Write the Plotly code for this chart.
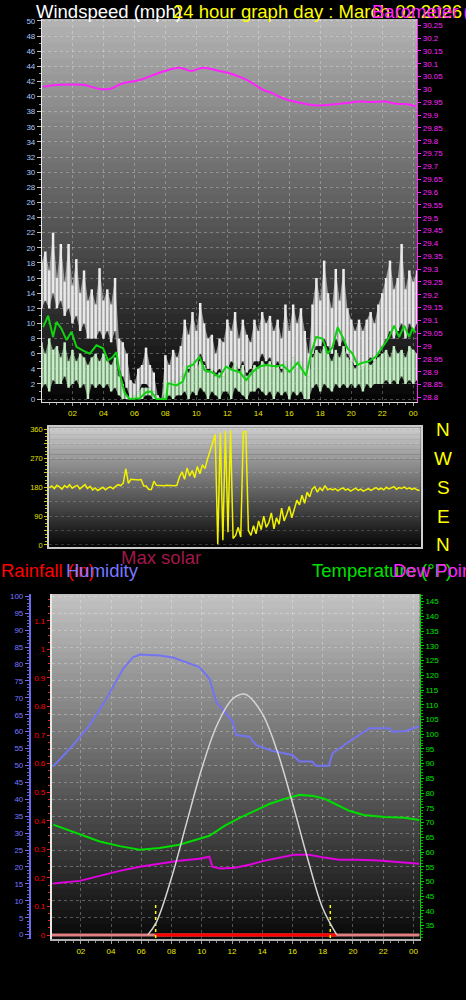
import plotly.graph_objects as go

# ---------------- DATA ----------------
hour_ticks = [2, 4, 6, 8, 10, 12, 14, 16, 18, 20, 22, 24]
hour_labels = ["02", "04", "06", "08", "10", "12", "14", "16", "18", "20", "22", "00"]

# wind speed samples every 15 minutes (mph)
wind_time = [i * 0.25 for i in range(98)]
gust_hi = [18, 19.5, 17, 22, 16, 20.5, 15.5, 20.5, 15, 18.5,
           14, 17, 13, 14.5, 12.5, 17.3, 13, 14.5, 12.5, 16,
           8, 7.5, 6, 2.5, 2, 4, 4.5, 6.8, 4.5, 3.5,
           0.5, 0, 5.8, 4.5, 6.5, 5.5, 7, 10.5, 8.5, 11.5,
           9, 12.7, 10, 8, 8.5, 6, 8, 7.5, 10.5, 9,
           11.5, 8, 10.5, 8.5, 7.5, 10.5, 9, 11.5, 10, 11,
           9, 10.5, 8, 12.5, 9, 12.5, 10, 12, 9, 6,
           12.5, 16, 13, 18.3, 14, 12, 17.2, 13, 17.2, 12,
           10.5, 9, 10.5, 9, 10.5, 11.5, 10, 12.5, 14, 16,
           18.3, 14.5, 16, 20.5, 14.5, 17, 15.5, 17]
gust_lo = [12, 13, 12, 14, 12, 13, 11, 12, 10, 11,
           9, 10, 8, 8, 8, 9, 8, 9, 7.5, 9,
           4, 3, 1.5, 0, 0.5, 1, 2, 2, 1.5, 1,
           0, 0, 1, 2, 2.5, 2, 3, 4, 4, 5,
           4, 6, 5, 4, 4, 3.5, 4, 3, 4, 5,
           4.5, 4, 5, 3.5, 4, 5, 5, 6, 5, 5.5,
           4, 5, 4, 5, 4, 5.5, 4, 5, 4, 3,
           6, 7, 7, 8, 7, 6, 8, 7, 8, 6,
           5, 4.5, 5, 4, 5, 5.5, 5, 6, 7, 8,
           9, 8, 9, 10, 8, 10, 9, 10]
speed_hi = [7.5, 6, 8, 6.5, 7, 5.5, 7.5, 5, 6.5, 5,
            6, 5.5, 4.5, 5.5, 6, 5, 6, 5, 4.5, 5.5,
            3, 2, 0.5, 0, 0.5, 1, 1.5, 1.5, 1.5, 1,
            0, 0, 2.5, 2, 2.5, 2, 3, 4.5, 3.5, 5,
            4, 5, 4.5, 3.5, 4, 3, 3.5, 3, 4.5, 4,
            5, 3.5, 4.5, 3, 3.5, 4.5, 4, 5, 4.5, 5,
            4, 4.5, 3.5, 5, 4, 5.5, 4, 5, 4, 3,
            5.5, 6.5, 6, 7, 6, 5, 6.5, 5.5, 7, 5.5,
            5, 4, 5, 4.5, 5, 4.5, 5, 5.5, 6, 6.5,
            5.5, 7, 6, 6.5, 5.5, 7, 6.5, 6]
speed_lo = [1.5, 2, 1, 2.5, 2, 2, 3, 1.5, 2, 2.5,
            1.5, 2, 0, 2, 1.5, 2, 1.5, 2, 1, 1.5,
            0.5, 0, 0, 0, 0, 0, 0, 0.5, 0.5, 0,
            0, 0, 0, 0.5, 0, 0.5, 0.5, 1, 0, 1,
            0.5, 1.5, 1, 0, 1, 0.5, 0, 1, 1, 0,
            1.5, 1, 0.5, 0, 1, 1, 1.5, 1, 0.5, 1,
            0, 1, 0.5, 1, 0, 1, 0.5, 1, 0, 0,
            1.5, 2, 1, 2, 1.5, 1, 2, 1.5, 2, 1.5,
            2, 1.5, 2, 1, 2, 1.5, 2, 2, 2, 2.5,
            2, 2.5, 2, 3, 2, 2.5, 2, 2.5]

avg_time = [0.11, 0.43, 0.75, 0.97, 1.29, 1.62, 1.94, 2.26, 2.69, 3.12, 3.55, 3.98, 4.3, 4.62,
            4.84, 5.05, 5.37, 5.7, 6.34, 6.77, 7.09, 7.42, 8.06, 8.16, 8.7, 9.13, 9.45, 9.77,
            10.21, 10.53, 10.96, 11.49, 11.92, 12.35, 12.78, 13.22, 13.64, 14.07, 14.5, 15.15,
            15.57, 16.01, 16.54, 17.08, 17.4, 17.73, 18.15, 18.47, 18.8, 19.12, 19.44, 19.76,
            20.08, 20.41, 20.73, 21.16, 21.59, 22.02, 22.45, 22.77, 23.09, 23.42, 23.74, 23.95, 24.17]
avg_mph = [9.5, 11, 8.2, 10.2, 9.3, 7.8, 8.9, 6.9, 6.4, 6, 7.1, 6.7, 5.1, 5.6,
           6.2, 3.4, 0.8, 0, 0.1, 0.9, 1, 0, 0, 2.1, 1.8, 2.3, 4.3, 4.5,
           5.6, 3.8, 3.6, 2.9, 4.3, 3.8, 3.6, 2.5, 3.6, 4.3, 4.5, 4.3,
           4.5, 3.6, 4.8, 3.1, 6, 8.2, 8, 6, 6.9, 9.5, 8.2, 6.7,
           6, 4.5, 4.8, 5, 5.6, 6.9, 8.2, 9.7, 8.2, 9.7, 8.2, 9.3, 8.8]

baro_time = [0.11, 1.19, 2.69, 3.76, 4.41, 5.26, 6.34, 7.84, 8.92, 9.67, 10.42, 11.49, 12.14,
             13.0, 13.64, 14.29, 14.93, 15.58, 16.44, 17.08, 17.73, 18.58, 19.66, 20.52, 21.37,
             22.24, 22.88, 23.52, 24.17]
baro_in = [30.011, 30.018, 30.018, 30.002, 30.002, 30.024, 30.037, 30.070, 30.085, 30.072,
           30.085, 30.072, 30.063, 30.044, 30.024, 29.999, 29.985, 29.966, 29.951, 29.943,
           29.938, 29.940, 29.947, 29.953, 29.951, 29.953, 29.944, 29.943, 29.934]
baro_ticks = [round(28.8 + 0.05 * k, 2) for k in range(30)]
baro_labels = ["%g" % v for v in baro_ticks]
wind_ticks = list(range(0, 51, 2))

# wind direction every 10 minutes (degrees)
dir_time = [i / 6 for i in range(146)]
wind_dir = [178, 184, 176, 186, 181, 174, 185, 179, 188, 177, 183, 186, 175, 182, 188, 176, 183, 172, 178, 170,
            176, 180, 172, 178, 181, 175, 183,
            188, 185, 193, 238, 192, 205, 204, 204, 203, 204,
            184, 184, 173, 173, 199,
            186, 185, 185, 185, 186, 185, 185, 185, 186, 212,
            228, 205, 240, 215, 232, 210, 245, 222, 250, 238,
            268, 290, 318, 345,
            2, 350, 15, 355, 40, 358, 20, 30, 55, 25, 352, 354, 45, 30,
            60, 35, 75, 48, 90, 55, 70, 100, 50, 85, 65, 115, 75, 95, 120, 85, 110, 140,
            125, 155, 130, 165, 150, 175,
            182, 165, 178, 170, 185, 172, 176,
            172, 176, 169, 174, 178, 171, 175, 168, 173, 177,
            170, 174, 168, 172, 176, 170, 175, 179, 173, 177,
            172, 180, 175, 178, 182, 174, 179, 176, 181, 175,
            178, 173, 177, 172, 170]
dir_ticks = [0, 45, 90, 135, 180, 225, 270, 315, 360]
dir_labels = ["0", "", "90", "", "180", "", "270", "", "360"]
compass = ["N", "W", "S", "E", "N"]
compass_deg = [360, 270, 180, 90, 0]

# bottom panel
hum_time = [0.17, 1.49, 2.6, 3.7, 4.8, 5.45, 5.9, 7.2, 8.1, 9.2, 9.85, 10.5, 10.96, 11.6, 12.05,
            12.28, 13.15, 13.6, 14.7, 16.0, 16.46, 17.3, 17.55, 18.4, 18.65, 19.75, 20.6, 21.1,
            22.4, 22.6, 23.5, 24.4]
hum_pct = [49.7, 56, 62, 69.8, 78.6, 82, 82.8, 82.5, 81.9, 80.1, 79.1, 75.7, 68.8, 65.4, 62.9,
           59, 58.5, 56, 54.3, 53.1, 51.2, 51.2, 49.9, 49.9, 53.6, 57.1, 59.5, 61,
           61, 60, 60.2, 61.6]
temp_time = [0.17, 1.93, 3.25, 4.57, 5.9, 7.2, 8.5, 9.85, 10.5, 11.5, 12.5, 13.5, 14.5, 15.5,
             16.5, 17.4, 18.1, 18.8, 19.75, 20.7, 22.1, 23.4, 24.4]
temp_f = [69.3, 65.9, 63.6, 62.0, 60.8, 61.4, 62.5, 64.5, 65.5, 68.9, 71.6, 74.0, 76.4, 78.1,
          79.4, 79.0, 78.1, 76.4, 74.0, 72.6, 71.9, 71.6, 70.9]
dew_time = [0.17, 1.93, 3.25, 4.57, 5.9, 7.2, 8.5, 9.85, 10.5, 10.7, 11.2, 12.2, 13.15, 14.1,
            15.1, 16.1, 17.1, 18.1, 19.1, 20.4, 21.7, 23.05, 24.4]
dew_f = [49.3, 50.2, 51.9, 53.6, 55.0, 56.0, 57.0, 57.7, 58.4, 55.0, 54.4, 54.7, 55.7, 57.0,
         58.1, 59.1, 59.1, 58.1, 57.4, 57.4, 57.1, 56.6, 56.0]
solar_time = [6.44, 7, 8, 9, 10, 11, 12, 12.7, 13, 14, 15, 16, 17, 18, 18.92]
solar_wm2 = [0, 37, 168, 331, 491, 619, 695, 711, 708, 653, 541, 389, 225, 78, 0]
rain_time = [0.09, 24.4]
rain_in = [0, 0]
daylight_time = [6.9, 18.9]
daylight_rain = [0, 0]
sun_events = [6.95, 18.5]
rain_ticks = [0, 0.1, 0.2, 0.3, 0.4, 0.5, 0.6, 0.7, 0.8, 0.9, 1.0, 1.1]
rain_labels = ["0", "0.1", "0.2", "0.3", "0.4", "0.5", "0.6", "0.7", "0.8", "0.9", "1", "1.1"]
hum_ticks = list(range(0, 101, 5))
temp_ticks = list(range(35, 146, 5))

# ---------------- FIGURE ----------------
W, H = 466, 1000
FONT = "Liberation Sans, Arial, sans-serif"


def px_x(p):
    return p / W


def px_y(p):
    return 1 - p / H


fig = go.Figure()

# panel 1 : wind speed & barometer
fig.add_trace(go.Scatter(x=wind_time, y=gust_lo, mode="lines", line=dict(width=0),
                         xaxis="x", yaxis="y", hoverinfo="skip"))
fig.add_trace(go.Scatter(x=wind_time, y=gust_hi, mode="lines", line=dict(width=0), fill="tonexty",
                         fillcolor="rgba(225,225,225,0.6)", xaxis="x", yaxis="y"))
fig.add_trace(go.Bar(x=wind_time, y=[h - l for h, l in zip(gust_hi, gust_lo)], base=gust_lo,
                     width=0.16, marker=dict(color="#f2f2f2", line=dict(width=0)),
                     xaxis="x", yaxis="y"))
fig.add_trace(go.Scatter(x=wind_time, y=speed_lo, mode="lines", line=dict(width=0),
                         xaxis="x", yaxis="y"))
fig.add_trace(go.Scatter(x=wind_time, y=speed_hi, mode="lines", line=dict(width=0), fill="tonexty",
                         fillcolor="rgba(190,235,190,0.6)", xaxis="x", yaxis="y"))
fig.add_trace(go.Bar(x=wind_time, y=[h - l for h, l in zip(speed_hi, speed_lo)], base=speed_lo,
                     width=0.16, marker=dict(color="#ccf4cc", line=dict(width=0)),
                     xaxis="x", yaxis="y"))
fig.add_trace(go.Scatter(x=avg_time, y=avg_mph, mode="lines", line=dict(color="#12d012", width=2),
                         xaxis="x", yaxis="y"))
fig.add_trace(go.Scatter(x=baro_time, y=baro_in, mode="lines", line=dict(color="#ff22ff", width=2, shape="spline"),
                         xaxis="x", yaxis="y2"))

# panel 2 : wind direction
fig.add_trace(go.Scatter(x=dir_time, y=wind_dir, mode="lines", line=dict(color="#f2f200", width=1.5),
                         xaxis="x2", yaxis="y3"))

# panel 3
fig.add_trace(go.Scatter(x=rain_time, y=rain_in, mode="lines", line=dict(color="#e08080", width=3),
                         xaxis="x3", yaxis="y4"))
fig.add_trace(go.Scatter(x=daylight_time, y=daylight_rain, mode="lines", line=dict(color="#ff0000", width=3),
                         xaxis="x3", yaxis="y4"))
for ev in sun_events:
    fig.add_trace(go.Scatter(x=[ev, ev], y=[-0.01, 0.11], mode="lines",
                             line=dict(color="#ffff00", width=1.5, dash="dot"), xaxis="x3", yaxis="y4"))
fig.add_trace(go.Scatter(x=solar_time, y=solar_wm2, mode="lines", line=dict(color="#d4d4d4", width=1.5, shape="spline"),
                         xaxis="x3", yaxis="y7"))
fig.add_trace(go.Scatter(x=temp_time, y=temp_f, mode="lines", line=dict(color="#00dd00", width=2),
                         xaxis="x3", yaxis="y6"))
fig.add_trace(go.Scatter(x=dew_time, y=dew_f, mode="lines", line=dict(color="#e000e0", width=2),
                         xaxis="x3", yaxis="y6"))
fig.add_trace(go.Scatter(x=hum_time, y=hum_pct, mode="lines", line=dict(color="#7474f2", width=2),
                         xaxis="x3", yaxis="y5"))


# gradient backgrounds
def add_gradient(xref, yref, top, bottom, n=48):
    for k in range(n):
        f0 = k / n
        f1 = (k + 1) / n
        g = int(round(bottom + (top - bottom) * (f0 + f1) / 2))
        fig.add_shape(type="rect", xref=xref + " domain", yref=yref + " domain",
                      x0=0, x1=1, y0=f0, y1=min(1, f1 + 0.004),
                      fillcolor=f"rgb({g},{g},{g})", line_width=0, layer="below")


add_gradient("x", "y", 180, 4)
add_gradient("x2", "y3", 205, 4)
add_gradient("x3", "y4", 195, 8)

grid = "rgba(255,255,255,0.28)"


def tickf(c, s=8):
    return dict(family=FONT, size=s, color=c)


fig.update_layout(
    width=W, height=H, margin=dict(l=0, r=0, t=0, b=0),
    paper_bgcolor="black", plot_bgcolor="black", showlegend=False, barmode="overlay",
    xaxis=dict(domain=[px_x(42), px_x(418)], anchor="y", range=[0.03, 24.25],
               tickvals=hour_ticks, ticktext=hour_labels, tickfont=tickf("#e8e800"),
               ticks="outside", ticklen=3, tickcolor="#a0a0a0",
               showgrid=True, gridcolor=grid, griddash="dot", zeroline=False,
               showline=True, linecolor="#d8d8d8", linewidth=1,
               minor=dict(dtick=0.5, ticklen=2, tickcolor="#909090", ticks="outside")),
    yaxis=dict(domain=[px_y(402), px_y(17)], anchor="x", range=[-0.39, 50.26],
               tickvals=wind_ticks, tickfont=tickf("#a8c8f8"),
               ticks="outside", ticklen=4, tickcolor="#c0c0c0",
               showgrid=True, gridcolor=grid, griddash="dot", zeroline=False,
               showline=True, linecolor="#e8e8e8", linewidth=1,
               minor=dict(dtick=1, ticklen=2, tickcolor="#a0a0a0", ticks="outside")),
    yaxis2=dict(overlaying="y", side="right", anchor="x", range=[28.782, 30.275],
                tickvals=baro_ticks, ticktext=baro_labels, tickfont=tickf("#ff22ff"),
                ticks="outside", ticklen=3, tickcolor="#ff22ff",
                showgrid=False, zeroline=False, showline=True, linecolor="#ff22ff"),
    xaxis2=dict(domain=[px_x(49.3), px_x(421.7)], anchor="y3", range=[0, 24.25],
                showticklabels=False, showgrid=False, zeroline=False,
                showline=True, linecolor="#c8c8c8", linewidth=2, mirror=True, ticks=""),
    yaxis3=dict(domain=[px_y(547.7), px_y(427.3)], anchor="x2", range=[-6.2, 367.4],
                tickvals=dir_ticks, ticktext=dir_labels, tickfont=tickf("#e0e000", 7.5),
                ticks="outside", ticklen=3, tickcolor="#d0d000",
                showgrid=True, gridcolor="rgba(255,255,255,0.18)", griddash="dot", zeroline=False,
                showline=True, linecolor="#d0d0d0", linewidth=2, mirror=True,
                minor=dict(dtick=11.25, ticklen=2, tickcolor="#c8c800", ticks="outside")),
    xaxis3=dict(domain=[px_x(52), px_x(420.7)], anchor="y4", range=[0.086, 24.42],
                tickvals=hour_ticks, ticktext=hour_labels, tickfont=tickf("#e8e800"),
                ticks="outside", ticklen=3, tickcolor="#a0a0a0",
                showgrid=True, gridcolor=grid, griddash="dot", zeroline=False,
                showline=True, linecolor="#b0b0b0", linewidth=2,
                minor=dict(dtick=0.5, ticklen=2, tickcolor="#909090", ticks="outside")),
    yaxis4=dict(domain=[px_y(941.7), px_y(595)], anchor="x3", range=[-0.0139, 1.194],
                tickvals=rain_ticks, ticktext=rain_labels, tickfont=tickf("#ff0000"),
                ticks="outside", ticklen=3, tickcolor="#ff2020",
                showgrid=False, zeroline=False, showline=True, linecolor="#e8e8e8", linewidth=2,
                minor=dict(dtick=0.025, ticklen=2, tickcolor="#e03030", ticks="outside")),
    yaxis5=dict(overlaying="y4", anchor="free", position=px_x(30), side="left",
                range=[-1.29, 100.68], tickvals=hum_ticks, tickfont=tickf("#7878ff"),
                ticks="outside", ticklen=4, tickcolor="#7070f0",
                showgrid=True, gridcolor=grid, griddash="dot", zeroline=False,
                showline=True, linecolor="#6c6cf0", linewidth=2,
                minor=dict(dtick=1, ticklen=2, tickcolor="#6060d0", ticks="outside")),
    yaxis6=dict(overlaying="y4", side="right", anchor="x3", range=[30.47, 147.6],
                tickvals=temp_ticks, tickfont=tickf("#00e000"),
                ticks="outside", ticklen=3, tickcolor="#00d000",
                showgrid=False, zeroline=False, showline=True, linecolor="#00d000",
                minor=dict(dtick=1, ticklen=2, tickcolor="#00b000", ticks="outside")),
    yaxis7=dict(overlaying="y4", visible=False, range=[-12.9, 1006.8]),
)

TF = "Liberation Sans, Arial, sans-serif"
titles = [
    ("Windspeed (mph)", 35, 10, "#ffffff"),
    ("24 hour graph day : March 02 2026", 172, 10, "#ffff00"),
    ("Barometer (in)", 372, 10, "#ff22ff"),
    ("Max solar", 120, 558.3, "#a01848"),
    ("Rainfall (in)", 0, 571.7, "#ff0000"),
    ("Humidity", 65, 571.7, "#7878ff"),
    ("Temperature (°F)", 312, 571.7, "#00e000"),
    ("Dew Point", 393, 571.7, "#ff22ff"),
]
for txt, x, y, c in titles:
    fig.add_annotation(text=txt, xref="paper", yref="paper", x=px_x(x), y=px_y(y),
                       xanchor="left", yanchor="middle", showarrow=False,
                       font=dict(family=TF, size=18.5, color=c), borderpad=0)

for lab, d in zip(compass, compass_deg):
    fig.add_annotation(text=lab, xref="paper", yref="y3", x=px_x(444), y=d,
                       xanchor="center", yanchor="middle", showarrow=False,
                       font=dict(family=TF, size=19, color="#ffff00"))

fig.write_html("out.html", config={"displayModeBar": False},
               post_script="document.body.style.margin='0px';document.body.style.overflow='hidden';")
